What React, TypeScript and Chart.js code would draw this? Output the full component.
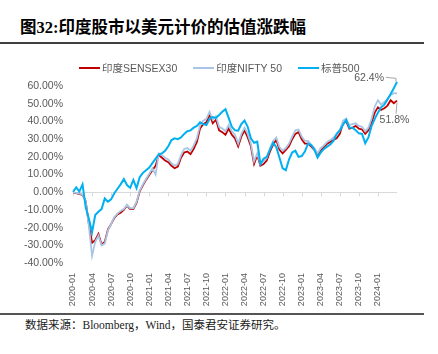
import React, { useEffect, useRef } from 'react';
import { Chart, registerables } from 'chart.js';

Chart.register(...registerables);

const FONT = '"Liberation Sans", Arial, "Noto Sans CJK SC", sans-serif';
const titleText = '图32:印度股市以美元计价的估值涨跌幅';
const sourceText = '数据来源：Bloomberg，Wind，国泰君安证券研究。';

const seriesNames = ['印度SENSEX30', '印度NIFTY 50', '标普500'];
const seriesColors = ['#C00000', '#A9C5E6', '#00B0F0'];

// semi-monthly observation dates, 2020-01-01 .. 2024-04-01
const categories: string[] = [];
for (let y = 2020; y <= 2024; y++) {
  for (let mo = 1; mo <= 12; mo++) {
    if (y === 2024 && mo > 4) break;
    const mm = String(mo).padStart(2, '0');
    categories.push(`${y}-${mm}-01`);
    if (!(y === 2024 && mo === 4)) categories.push(`${y}-${mm}-16`);
  }
}

const quarterTicks = [
  '2020-01', '2020-04', '2020-07', '2020-10',
  '2021-01', '2021-04', '2021-07', '2021-10',
  '2022-01', '2022-04', '2022-07', '2022-10',
  '2023-01', '2023-04', '2023-07', '2023-10',
  '2024-01',
];

const yTicks = [-40, -30, -20, -10, 0, 10, 20, 30, 40, 50, 60];

// % change, USD terms
const sensex30 = [
  0, -0.5, -1, -1.5, -5, -18, -28.5, -27, -23.5, -29.5,
  -28, -21, -18, -14.5, -12.5, -11.5, -10, -7.5, -9.5, -9.5,
  -6, 0.5, 4, 7, 9.8, 12.5, 15, 21, 19.5, 18,
  17, 15, 13.6, 14.5, 19.5, 22.5, 23, 21.5, 24.5, 28.5,
  36, 38.5, 39.5, 44, 39, 41, 35, 34, 32.5, 36,
  32.5, 30.5, 26, 31.4, 35, 31, 26, 16, 21, 15,
  16, 18, 23, 27, 29.5, 24, 22, 24, 26, 30,
  33, 34, 30, 27.5, 27.5, 25.8, 24, 21, 23.5, 25.5,
  27.5, 28.5, 29.5, 30.5, 33, 39, 40, 36, 36.5, 37.5,
  36, 35.5, 33, 35, 39.5, 45, 48, 46.5, 47.5, 49,
  52, 50.3, 51.8,
];

const nifty50 = [
  0, -0.3, -0.8, -1.2, -5, -19, -36, -28, -24.5, -30,
  -29, -21.5, -18, -14, -12, -10.5, -9.5, -7, -9, -9,
  -5.5, 1, 4.5, 7.5, 10.5, 13.5, 10, 22, 21, 19.5,
  18.5, 16.5, 15, 16, 21, 24.5, 25, 23.5, 26.5, 30.5,
  38, 40.5, 41.5, 45.5, 41, 43, 37, 36, 34.5, 38,
  34.5, 32.5, 27.5, 33, 36.5, 33, 27.5, 17.5, 22, 16,
  17.5, 19.5, 25, 29, 31, 25.5, 23.5, 25, 27.5, 31.5,
  35, 35.5, 31.5, 29, 29, 27, 25, 22, 25, 26.5,
  28.5, 29.5, 31, 32.5, 35, 40.5, 41.5, 38, 38.5, 39,
  37.5, 37, 34.5, 36.5, 41.5, 48.5, 52, 49.5, 51, 52.5,
  55, 56, 55.9,
];

const sp500 = [
  0.3, 2.8, 0.4, 4.5, -8.5, -15, -22.5, -12.8, -11, -9.5,
  -3.5, -5.3, -4, -0.5, 2, 4.5, 7.5, 4.1, 2.5, 7,
  2.3, 8.5, 11, 12.5, 14, 16.5, 19, 21.5, 22, 23.5,
  26, 29.5, 30.5, 30, 31, 33, 34.5, 35, 36.5, 37.5,
  39.5, 38.5, 38, 41.5, 42.5, 42, 43.7, 45.5, 47, 42,
  37, 35, 34.8, 38.5, 40.5, 37, 30.5, 28, 28.6, 16,
  19, 20, 24, 28, 25.5, 19.5, 13.5, 12.5, 18.5, 22.5,
  23.5, 20, 20.5, 23, 27.5, 26.7, 24, 19.6, 22.5, 24.5,
  25.8, 27, 29, 33, 35, 38, 41, 36.5, 36.5, 35,
  33.3, 33, 27.7, 31, 37.5, 41.5, 45, 48, 49.5, 52.5,
  55.5, 58.8, 62.4,
];

const seriesData = [sensex30, nifty50, sp500];

const quarterIndex = categories
  .map((c, i) => (c.endsWith('-01') && quarterTicks.includes(c.slice(0, 7)) ? i : -1))
  .filter((i) => i >= 0);

const axisTickPlugin = {
  id: 'zeroAxisTicks',
  beforeDatasetsDraw(chart: any) {
    const { ctx, scales } = chart;
    const y0 = scales.y.getPixelForValue(0);
    ctx.save();
    ctx.strokeStyle = '#D9D9D9';
    ctx.lineWidth = 1;
    ctx.beginPath();
    quarterIndex.forEach((i) => {
      const x = Math.round(scales.x.getPixelForValue(i)) + 0.5;
      ctx.moveTo(x, y0);
      ctx.lineTo(x, y0 + 4);
    });
    ctx.stroke();
    ctx.restore();
  },
};

const endLabelPlugin = {
  id: 'endLabels',
  afterDatasetsDraw(chart: any) {
    const { ctx } = chart;
    ctx.save();
    ctx.font = `10.5px ${FONT}`;
    ctx.fillStyle = '#595959';
    ctx.strokeStyle = '#A6A6A6';
    ctx.lineWidth = 1;
    // S&P 500 end label (above-left)
    {
      const d = seriesData[2];
      const pt = chart.getDatasetMeta(2).data[d.length - 1];
      ctx.textAlign = 'right';
      ctx.textBaseline = 'middle';
      ctx.fillText(`${d[d.length - 1].toFixed(1)}%`, pt.x - 13, pt.y - 3.5);
      ctx.beginPath();
      ctx.moveTo(pt.x - 11, pt.y - 4.5);
      ctx.lineTo(pt.x - 1, pt.y - 3.5);
      ctx.lineTo(pt.x - 1, pt.y);
      ctx.stroke();
    }
    // SENSEX end label (below)
    {
      const d = seriesData[0];
      const pt = chart.getDatasetMeta(0).data[d.length - 1];
      ctx.textAlign = 'center';
      ctx.textBaseline = 'middle';
      ctx.fillText(`${d[d.length - 1].toFixed(1)}%`, pt.x - 2.5, pt.y + 19.5);
      ctx.beginPath();
      ctx.moveTo(pt.x, pt.y + 2);
      ctx.lineTo(pt.x - 1, pt.y + 13);
      ctx.stroke();
    }
    ctx.restore();
  },
};

export default function App() {
  const ref = useRef<HTMLCanvasElement>(null);

  useEffect(() => {
    if (!ref.current) return;
    Chart.defaults.font.family = FONT;
    const chart = new Chart(ref.current, {
      type: 'line',
      data: {
        labels: categories,
        datasets: seriesNames.map((name, i) => ({
          label: name,
          data: seriesData[i],
          borderColor: seriesColors[i],
          backgroundColor: seriesColors[i],
          borderWidth: i === 2 ? 2 : 1.8,
          pointRadius: 0,
          tension: 0,
          order: 3 - i,
        })),
      },
      options: {
        responsive: false,
        animation: false,
        devicePixelRatio: 1,
        layout: { padding: { top: 68.4, right: 41, bottom: 30.9, left: 0 } },
        plugins: {
          legend: { display: false },
          tooltip: { enabled: false },
        },
        scales: {
          x: {
            type: 'category',
            offset: false,
            grid: { display: false, drawTicks: false },
            border: { display: false },
            afterBuildTicks: (s: any) => {
              s.ticks = s.ticks.filter((t: any) => quarterIndex.includes(t.value));
            },
            afterFit: (s: any) => {
              s.height = 60;
            },
            ticks: {
              autoSkip: false,
              minRotation: 90,
              maxRotation: 90,
              padding: 10,
              color: '#595959',
              font: { size: 9, family: FONT },
              callback: (v: any) => categories[v].slice(0, 7),
            },
          },
          y: {
            min: -40,
            max: 70,
            grid: {
              drawTicks: false,
              color: (c: any) => (c.tick && c.tick.value === 0 ? '#D9D9D9' : 'rgba(0,0,0,0)'),
              lineWidth: 1,
            },
            border: { display: false },
            afterBuildTicks: (s: any) => {
              s.ticks = yTicks.map((v) => ({ value: v }));
            },
            afterFit: (s: any) => {
              s.width = 73;
            },
            ticks: {
              padding: 10,
              color: '#595959',
              font: { size: 10.5, family: FONT },
              callback: (v: any) => `${Number(v).toFixed(2)}%`,
            },
          },
        },
      },
      plugins: [axisTickPlugin, endLabelPlugin],
    } as any);
    return () => chart.destroy();
  }, []);

  return (
    <div
      style={{
        position: 'fixed',
        left: 0,
        top: 0,
        width: 438,
        height: 354,
        background: '#fff',
        overflow: 'hidden',
      }}
    >
      <div
        style={{
          position: 'absolute',
          left: 20,
          top: 19,
          fontSize: 16.5,
          lineHeight: '18px',
          fontWeight: 700,
          color: '#000',
          whiteSpace: 'nowrap',
          fontFamily: '"Liberation Serif", "Noto Sans CJK SC", serif',
        }}
      >
        {titleText}
      </div>
      <div style={{ position: 'absolute', left: 0, top: 42, width: 424, height: 1.5, background: '#404040' }} />
      <div style={{ position: 'absolute', left: 0, top: 313, width: 424, height: 1.5, background: '#555' }} />
      <div
        style={{
          position: 'absolute',
          left: 25,
          top: 318,
          fontSize: 11.5,
          lineHeight: '14px',
          color: '#1a1a1a',
          whiteSpace: 'nowrap',
          fontFamily: '"Liberation Serif", "Noto Sans CJK SC", serif',
        }}
      >
        {sourceText}
      </div>
      <canvas ref={ref} width={438} height={354} style={{ position: 'absolute', left: 0, top: 0, width: 438, height: 354 }} />
      <div
        style={{
          position: 'absolute',
          left: 79,
          top: 61,
          display: 'flex',
          alignItems: 'center',
          fontSize: 10.5,
          lineHeight: '14px',
          color: '#595959',
          fontFamily: FONT,
          whiteSpace: 'nowrap',
        }}
      >
        {seriesNames.map((n, i) => (
          <div key={n} style={{ display: 'flex', alignItems: 'center', marginRight: 16 }}>
            <span style={{ display: 'inline-block', width: 21, height: 2, background: seriesColors[i], marginRight: 2 }} />
            <span>{n}</span>
          </div>
        ))}
      </div>
    </div>
  );
}
